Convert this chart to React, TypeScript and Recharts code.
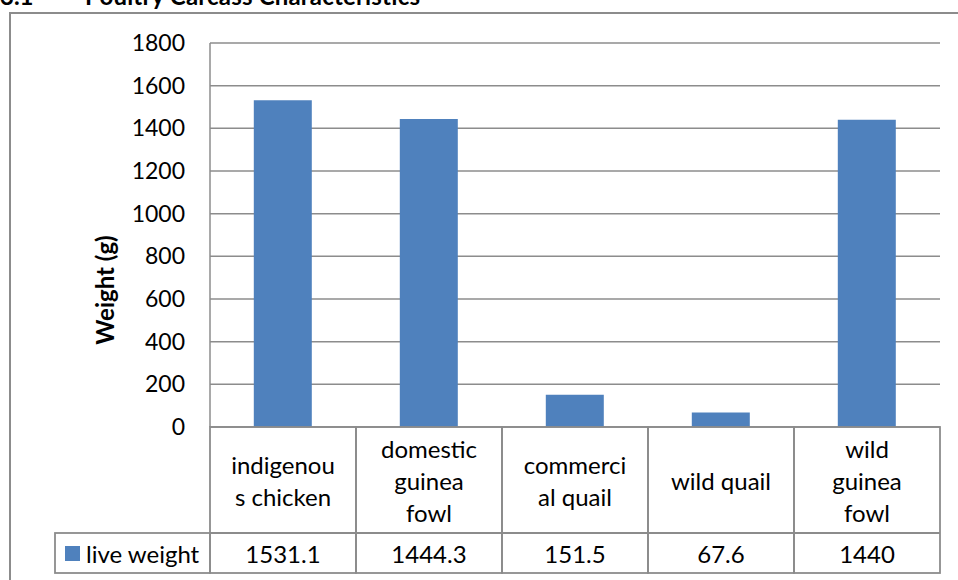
import React from "react";
import { BarChart, Bar, XAxis, YAxis, CartesianGrid } from "recharts";

const categories = [
  "indigenous chicken",
  "domestic guinea fowl",
  "commercial quail",
  "wild quail",
  "wild guinea fowl",
];
// wrapped the way the table header shows them
const categoryLines = [
  ["indigenou", "s chicken"],
  ["domestic", "guinea", "fowl"],
  ["commerci", "al quail"],
  ["wild quail"],
  ["wild", "guinea", "fowl"],
];
const liveWeight = [1531.1, 1444.3, 151.5, 67.6, 1440];
const yTicks = [0, 200, 400, 600, 800, 1000, 1200, 1400, 1600, 1800];
const seriesName = "live weight";

const data = categories.map((c, i) => ({ name: c, value: liveWeight[i] }));

const FONT = "Lato, 'Open Sans', sans-serif";
const BLUE = "#4F81BD";
const GRID = "#8c8c8c";
const HEADER_H = 106;
const VALUE_H = 40;
const LINE_H = 32;
const TABLE_FS = 24;

function TableTick(props: any) {
  const { x, y, payload, index } = props;
  const i0 = payload.index ?? index;
  const half = payload.offset || 73;
  const lines = categoryLines[i0] || [String(payload.value)];
  const midY = y + HEADER_H / 2;
  const startY = midY - ((lines.length - 1) * LINE_H) / 2;
  return (
    <g>
      <rect x={x - half} y={y} width={half * 2} height={HEADER_H + VALUE_H} fill="none" stroke={GRID} strokeWidth={1.8} />
      <line x1={x - half} x2={x + half} y1={y + HEADER_H} y2={y + HEADER_H} stroke={GRID} strokeWidth={1.8} />
      {lines.map((l: string, i: number) => (
        <text key={i} x={x} y={startY + i * LINE_H} textAnchor="middle" dominantBaseline="central" fontSize={TABLE_FS} fontFamily={FONT} fill="#000">
          {l}
        </text>
      ))}
      <text x={x} y={y + HEADER_H + VALUE_H / 2} textAnchor="middle" dominantBaseline="central" fontSize={TABLE_FS} fontFamily={FONT} fill="#000">
        {liveWeight[i0]}
      </text>
      {i0 === 0 && (
        <g>
          <rect x={x - half - 155} y={y + HEADER_H} width={155} height={VALUE_H} fill="none" stroke={GRID} strokeWidth={1.8} />
          <rect x={x - half - 145} y={y + HEADER_H + 13} width={15} height={15} fill={BLUE} />
          <text x={x - half - 124} y={y + HEADER_H + VALUE_H / 2} dominantBaseline="central" fontSize={TABLE_FS} fontFamily={FONT} fill="#000">
            {seriesName}
          </text>
        </g>
      )}
    </g>
  );
}

function AxisTitle(props: any) {
  const vb = props.viewBox || {};
  const cx = (vb.x ?? 90) + 14;
  const cy = (vb.y ?? 43) + (vb.height ?? 384) / 2 + 55;
  return (
    <text
      x={cx}
      y={cy}
      transform={`rotate(-90 ${cx} ${cy})`}
      textAnchor="middle"
      dominantBaseline="central"
      fontSize={24}
      fontWeight={700}
      fontFamily={FONT}
      fill="#000"
    >
      Weight (g)
    </text>
  );
}

export default function App() {
  return (
    <div style={{ position: "absolute", left: 0, top: 0, width: 958, height: 580, background: "#fff", overflow: "hidden" }}>
      <svg style={{ position: "absolute", left: 0, top: 0 }} width={958} height={20}>
        <text x={0} y={5} fontFamily={FONT} fontWeight={700} fontSize={24} fill="#000">
          3.1
        </text>
        <text x={85} y={5} fontFamily={FONT} fontWeight={700} fontSize={24} fill="#000" textLength={335}>
          Poultry Carcass Characteristics
        </text>
      </svg>
      <div
        style={{
          position: "absolute",
          left: 9,
          top: 12,
          width: 960,
          height: 580,
          borderLeft: `2px solid ${GRID}`,
          borderTop: `2px solid ${GRID}`,
        }}
      />
      <div style={{ position: "absolute", left: 0, top: 0 }}>
        <BarChart
          width={958}
          height={580}
          data={data}
          margin={{ top: 43, right: 18, bottom: 7, left: 90 }}
          barCategoryGap="30%"
        >
          <CartesianGrid vertical={false} stroke={GRID} strokeWidth={1.5} />
          <YAxis
            width={120}
            domain={[0, 1800]}
            ticks={yTicks}
            interval={0}
            tickLine={false}
            tickSize={0}
            tickMargin={25}
            axisLine={{ stroke: GRID, strokeWidth: 1.5 }}
            tick={{ fontSize: 23, fontFamily: FONT, fill: "#000" }}
            label={<AxisTitle />}
          />
          <XAxis
            dataKey="name"
            height={HEADER_H + VALUE_H}
            interval={0}
            tickLine={false}
            tickSize={0}
            tickMargin={0}
            axisLine={false}
            tick={<TableTick />}
          />
          <Bar dataKey="value" fill={BLUE} isAnimationActive={false} />
        </BarChart>
      </div>
    </div>
  );
}
